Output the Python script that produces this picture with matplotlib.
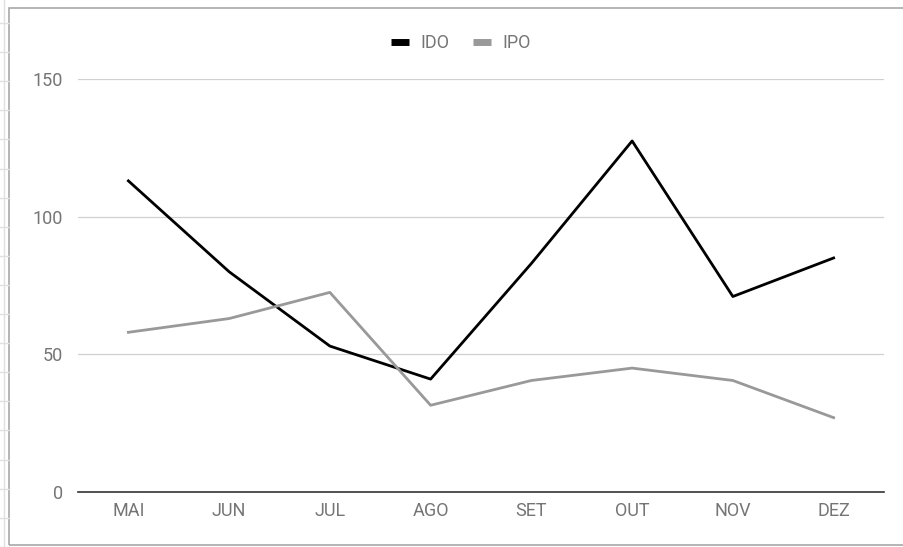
import matplotlib
matplotlib.use("Agg")
import matplotlib.pyplot as plt
import numpy as np
from matplotlib.lines import Line2D
from matplotlib.patches import Rectangle

plt.rcParams['font.family'] = ['Roboto', 'DejaVu Sans']

meses = ["MAI", "JUN", "JUL", "AGO", "SET", "OUT", "NOV", "DEZ"]
ido = [113, 80, 53, 41, 83, 127.5, 71, 85]
ipo = [58, 63, 72.5, 31.5, 40.5, 45, 40.5, 27]
y_ticks = [0, 50, 100, 150]

W, H = 904, 547
fig = plt.figure(figsize=(W / 100, H / 100), dpi=100)

# marco da planilha
fig.patches.append(Rectangle((9 / W, 1 - 545 / H), 1, (545 - 8) / H,
                             transform=fig.transFigure, fill=False,
                             edgecolor="#a8a8a8", linewidth=1.2))
fig.lines.append(Line2D([4.5 / W, 4.5 / W], [0, 1], transform=fig.transFigure,
                        color="#e0e0e0", linewidth=1))
for yp in np.arange(23, H, 29.1):
    fig.lines.append(Line2D([0, 9 / W], [1 - yp / H, 1 - yp / H],
                            transform=fig.transFigure, color="#e0e0e0", linewidth=1))

ax = fig.add_axes([78 / W, 1 - 492 / H, (884 - 78) / W, (492 - 79) / H])
x = np.arange(len(meses))
ax.plot(x, ido, color="#000000", linewidth=2, label="IDO")
ax.plot(x, ipo, color="#999999", linewidth=2, label="IPO")

ax.set_xlim(-0.5, len(meses) - 0.5)
ax.set_ylim(0, 150)
ax.set_xticks(x)
ax.set_xticklabels(meses)
ax.set_yticks(y_ticks)
ax.grid(axis="y", color="#d0d0d0", linewidth=0.9)
ax.set_axisbelow(True)
for s in ["top", "right", "left"]:
    ax.spines[s].set_visible(False)
ax.spines["bottom"].set_color("#333333")
ax.spines["bottom"].set_linewidth(1.2)
ax.spines["bottom"].set_zorder(3)
ax.tick_params(axis="both", length=0, labelcolor="#757575", labelsize=13)
ax.tick_params(axis="x", pad=7)
ax.tick_params(axis="y", pad=11)

leg = ax.legend(loc="center", bbox_to_anchor=(461 / W, 1 - 43 / H),
                bbox_transform=fig.transFigure, ncol=2, frameon=False,
                handlelength=1.0, handletextpad=0.65, columnspacing=1.3,
                fontsize=13)
for t in leg.get_texts():
    t.set_color("#757575")
for h in leg.get_lines():
    h.set_linewidth(5)
    h.set_solid_capstyle("butt")

fig.savefig("out.png", dpi=100)
